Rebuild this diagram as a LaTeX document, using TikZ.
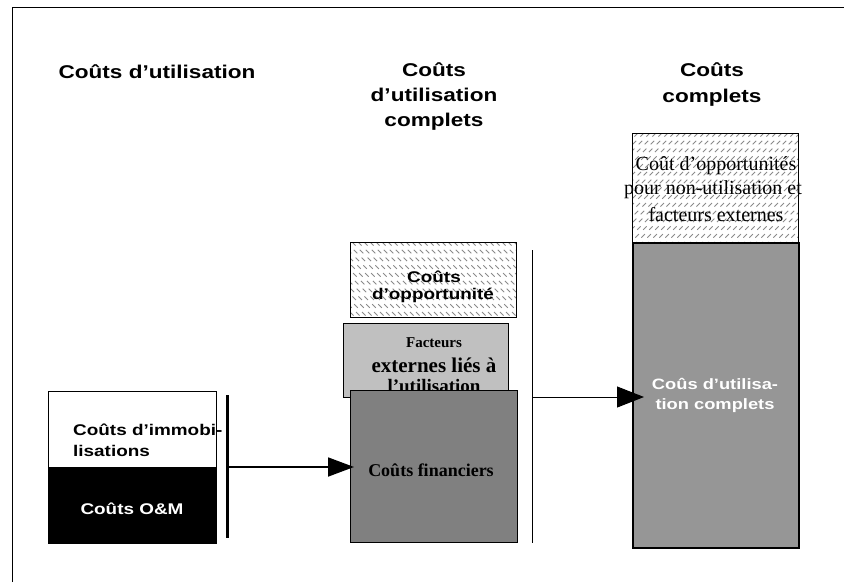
\documentclass[tikz,border=0pt]{standalone}
\usepackage{fontspec}
\setmainfont{Liberation Serif}
\newfontfamily\sfw{Liberation Sans}[FakeStretch=1.22]
\usetikzlibrary{arrows.meta}
\definecolor{fingray}{HTML}{808080}
\definecolor{factgray}{HTML}{C0C0C0}
\definecolor{totgray}{HTML}{969696}
\definecolor{hatchc}{HTML}{8A8A8A}
\tikzset{
  x=1pt, y=-1pt,
  box/.style={draw=black, line width=0.8pt, rectangle, inner sep=0pt, anchor=north west},
  hd/.style={inner sep=0pt, font=\sfw\bfseries\fontsize{18.5}{25}\selectfont, align=center},
  sfb/.style={inner sep=0pt, font=\sfw\bfseries\fontsize{15.5}{21}\selectfont},
  hatchline/.style={hatchc, line width=0.8pt, dash pattern=on 5pt off 6pt},
  barline/.style={line width=3pt},
  thinline/.style={line width=0.9pt},
  arrL/.style={line width=1.8pt, -{Triangle[length=26pt,width=19pt]}},
  arrR/.style={line width=1pt, -{Triangle[length=27pt,width=21pt]}},
}
\begin{document}
\begin{tikzpicture}
\useasboundingbox (0,0) rectangle (844,582);
% frame
\coordinate (fbl) at (12,582);
\coordinate (ftl) at (12,7);
\coordinate (ftr) at (844,7);
\draw[line width=1pt] (fbl) -- (ftl) -- (ftr);

% headings
\node[hd] (h1) at (157,72) {Coûts d’utilisation};
\node[hd] (h2) at (434,97) {Coûts\\d’utilisation\\complets};
\node[hd, font=\sfw\bfseries\fontsize{18.5}{26}\selectfont] (h3) at (712,85) {Coûts\\complets};

% left stack
\node[box, fill=white, minimum width=168pt, minimum height=76pt] (imm) at (48,391) {};
\node[box, fill=black, minimum width=168pt, minimum height=76pt] (om) at (48,467) {};
\node[sfb, anchor=west, align=left] (immt) at (73,440) {Coûts d’immobi-\\lisations};
\node[sfb, text=white] (omt) at (132,509) {Coûts O\&M};

% left bar and arrow
\coordinate (b1) at (227,395);
\coordinate (b2) at (227,538);
\draw[barline] (b1) -- (b2);
\coordinate (barL) at (227,467);
\coordinate (tipL) at (354,467);

% middle stack: opportunity (hatched)
\node[box, minimum width=166pt, minimum height=75pt] (opp) at (350,242) {};
\begin{scope}
  \clip (350,242) rectangle (516,317);
  \foreach \i in {-80,-74,...,520} {
    \draw[hatchline] (\i,242) -- ++(90,90);
  }
\end{scope}
\draw[line width=0.8pt] (opp.north west) rectangle (opp.south east);
\node[sfb] (oppt1) at (434,277) {Coûts};
\node[sfb] (oppt2) at (433,295) {d’opportunité};

% facteurs box
\node[box, fill=factgray, minimum width=165pt, minimum height=74pt] (fac) at (343,323) {};
\node[inner sep=0pt, font=\bfseries\fontsize{15}{18}\selectfont] (fa1) at (434,343) {Facteurs};
\node[inner sep=0pt, font=\bfseries\fontsize{21}{24}\selectfont] (fa2) at (434,365) {externes liés à};
\node[inner sep=0pt, font=\bfseries\fontsize{19}{22}\selectfont] (fa3) at (434,386) {l’utilisation};

% financiers box
\node[box, fill=fingray, minimum width=167pt, minimum height=152pt] (fin) at (350,390) {};
\node[inner sep=0pt, font=\bfseries\fontsize{18}{22}\selectfont] (fint) at (431,470) {Coûts financiers};

\draw[arrL] (barL) -- (tipL);

% right vertical line and arrow
\coordinate (r1) at (532,250);
\coordinate (r2) at (532,543);
\draw[thinline] (r1) -- (r2);
\coordinate (barR) at (532,397);
\coordinate (tipR) at (644,397);

% right stack
\node[box, minimum width=166pt, minimum height=109pt] (opx) at (632,133) {};
\begin{scope}
  \clip (632,133) rectangle (798,242);
  \foreach \i in {620,626,...,930} {
    \draw[hatchline] (\i,133) -- ++(-120,120);
  }
\end{scope}
\draw[line width=0.8pt] (opx.north west) rectangle (opx.south east);
\node[box, fill=totgray, line width=2pt, minimum width=166pt, minimum height=305pt] (tot) at (632,242) {};
\node[inner sep=0pt, font=\fontsize{20}{24}\selectfont] (ox1) at (716,166) {Coût d’opportunités};
\node[inner sep=0pt, font=\fontsize{20}{24}\selectfont] (ox2) at (713,190) {pour non-utilisation et};
\node[inner sep=0pt, font=\fontsize{20}{24}\selectfont] (ox3) at (716,215) {facteurs externes};
\node[sfb, text=white, font=\sfw\bfseries\fontsize{15}{20}\selectfont, align=center] (tott) at (715,395) {Coûs d’utilisa-\\tion complets};

\draw[arrR] (barR) -- (tipR);
\end{tikzpicture}
\end{document}
